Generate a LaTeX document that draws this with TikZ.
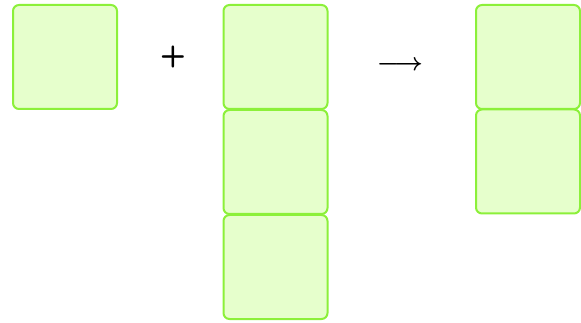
\documentclass[tikz,border=0pt]{standalone}
\begin{document}
\begin{tikzpicture}[x=1pt,y=-1pt,
  cell/.style={draw=cellline, fill=cellfill, line width=2pt, rounded corners=6pt,
    minimum width=104pt, minimum height=104pt, inner sep=0pt, outer sep=0pt,
    anchor=north west},
  sym/.style={inner sep=0pt, text=black}]
\definecolor{cellfill}{HTML}{E6FFCC}
\definecolor{cellline}{HTML}{8CF03A}
\useasboundingbox (0,0) rectangle (581,323);
% left operand: one cell
\node[cell] (a1) at (13,5) {};
% right operand: column of three cells
\node[cell] (b1) at (223.5,5) {};
\node[cell] (b2) at (223.5,110) {};
\node[cell] (b3) at (223.5,215) {};
% result: column of two cells
\node[cell] (c1) at (476,5) {};
\node[cell] (c2) at (476,109.5) {};
% operators
\node[sym, font=\fontsize{30}{30}\selectfont\sffamily\bfseries] (plus) at (173,57) {+};
\node[sym, font=\fontsize{32}{32}\selectfont\boldmath] (arrow) at (400,65.5) {$\longrightarrow$};
\end{tikzpicture}
\end{document}
